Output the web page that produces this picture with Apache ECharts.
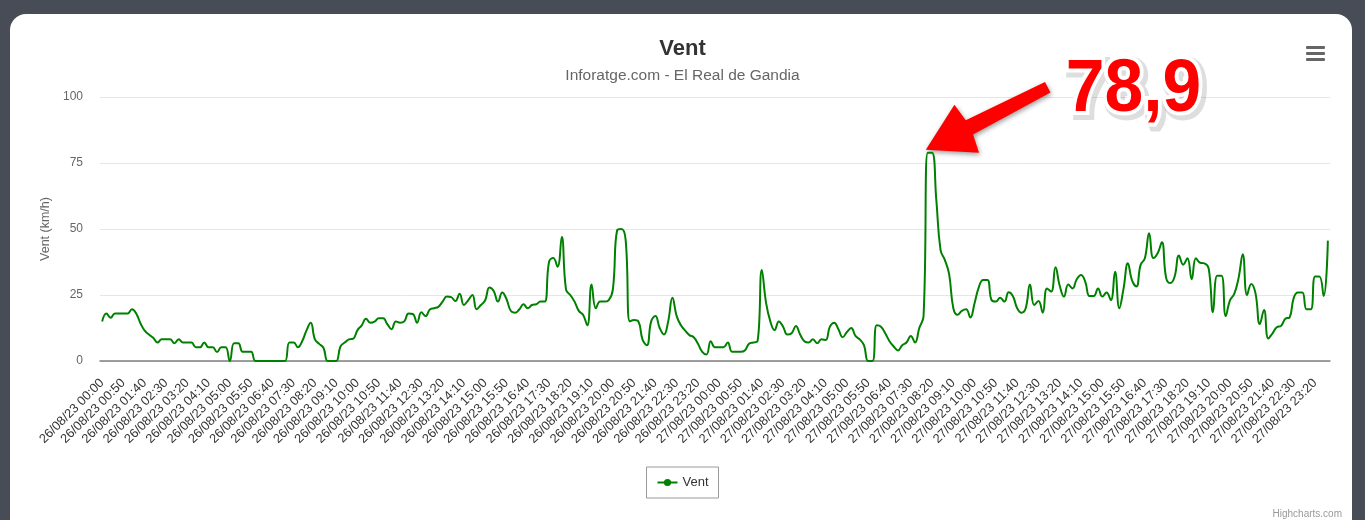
<!DOCTYPE html>
<html><head><meta charset="utf-8">
<script src="https://cdn.jsdelivr.net/npm/echarts/dist/echarts.min.js"></script>
<style>
html,body{margin:0;padding:0;width:1365px;height:520px;overflow:hidden;background:#474c56;}
#card{position:absolute;left:10px;top:14px;width:1342px;height:530px;background:#fff;border-radius:16px;}
#chart{position:absolute;left:0;top:0;width:1365px;height:520px;}
</style></head><body><div id="card"></div><div id="chart"></div>
<script>
// ---- data ----
const days = ['26/08/23', '27/08/23'];
const extraTime = '23:59';
const yTicks = [0, 25, 50, 75, 100];
const seriesName = 'Vent';
const windDay1 = [15,18,16.4,18,18,18,18,19.6,18,14.3,11.5,10,8.8,7,8.2,8.2,8.2,6.7,8.2,7,7,7,5.2,5.2,7,5.2,5.2,3.4,5.2,5.2,0,6.7,6.7,3.5,3.5,3.5,0,
  0,0,0,0,0,0,0,7,7,5.2,7.5,11.5,14.5,8.2,6.5,5,0,0,0,5.5,7,8.2,8.5,11.7,13.5,16,14.5,14.9,16.2,16.2,14,12,15,14.5,15,18,
  17.8,14.5,18.5,17,19.5,20,20.5,22.5,24.4,24.2,22.7,25.5,21.2,23,25,19.6,21.2,23,27.8,26.5,22.5,25.9,23.5,19,18.3,19.5,21.5,20,21.2,21.5,22.5,22.5,37.5,39,35.7,47,
  27,25,22.5,19,17.5,13.5,29,20,22.5,22.5,23,27,49.5,50,46,15,15.5,15,8,6,15,17,12.5,10,15,24,17,13.5,11.5,9.8,9,6.5,3.5,2.5,7.5];
const windDay2 = [5.2,5.2,5.2,7,3.5,3.5,3.5,4,6.5,7,7.5,34.5,22,15,11.7,15,13,10,10.5,13.3,10,7.5,7,8.2,6.7,8.2,8,13,14.5,12,9,11,12.5,9.5,8.2,6,0,0,
  13.5,13,10.5,7.5,5.5,4,6,7,9.5,7,12.5,17,78.9,78.9,61,42,38.3,33,20,17.5,19,19.6,16.5,22,28,30.7,30.7,23,22.5,24,22.5,26,24.5,20,18.3,20,
  29,21.2,22.7,18.3,27.5,26.3,35.5,28.5,24.4,29,27.5,31,32.6,30,24.6,24.6,27.5,24.4,25.9,23,33.8,20,27.5,37,30.5,28.2,36.4,38.9,48.4,39,40.8,45,31.5,29.5,32,40,36.5,
  38.9,31,38.9,37.2,37,35,18.5,32.3,32.3,17,23,25.4,31.3,40.4,25,29.2,25.6,14,19.3,8.5,10.5,12.8,13.3,16,16.5,24,25.9,25.9,19.6,19.6,32,32,24.6,45.6];
const wind = windDay1.concat(windDay2);

// category labels (10-minute steps)
const pad = n => (n < 10 ? '0' : '') + n;
const times = [];
for (let h = 0; h < 24; h++) for (let m = 0; m < 60; m += 10) times.push(pad(h) + ':' + pad(m));
const categories = times.map(t => days[0] + ' ' + t)
  .concat([days[0] + ' ' + extraTime])
  .concat(times.map(t => days[1] + ' ' + t));

const FONT = "'Liberation Sans', Arial, Helvetica, sans-serif";
const chart = echarts.init(document.getElementById('chart'), null, {renderer: 'canvas'});
const option = {
  animation: false,
  backgroundColor: 'transparent',
  textStyle: {fontFamily: FONT},
  title: {
    left: 'center', top: 33,
    text: 'Vent',
    subtext: 'Inforatge.com - El Real de Gandia',
    itemGap: 8,
    textStyle: {fontFamily: FONT, fontSize: 22, fontWeight: 'bold', color: '#333333'},
    subtextStyle: {fontFamily: FONT, fontSize: 15.5, color: '#666666'}
  },
  legend: {
    top: 467, left: 'center',
    data: [seriesName],
    borderColor: '#999999', borderWidth: 1, borderRadius: 0,
    padding: [9, 10, 9, 10],
    itemWidth: 20, itemHeight: 9, itemGap: 5,
    textStyle: {fontFamily: FONT, fontSize: 13, color: '#333333'}
  },
  grid: {left: 100, right: 35, top: 97, bottom: 159, containLabel: false},
  xAxis: {
    type: 'category',
    data: categories,
    boundaryGap: true,
    axisLine: {show: true, lineStyle: {color: '#808080', width: 1.5}},
    axisTick: {show: false},
    splitLine: {show: false},
    axisLabel: {interval: 4, rotate: 45, margin: 20, fontSize: 12.8, color: '#333333', fontFamily: FONT}
  },
  yAxis: {
    type: 'value',
    min: yTicks[0], max: yTicks[yTicks.length - 1], interval: yTicks[1] - yTicks[0],
    name: 'Vent (km/h)', nameLocation: 'middle', nameGap: 47, nameRotate: 90,
    nameTextStyle: {fontFamily: FONT, fontSize: 12.5, color: '#666666'},
    axisLine: {show: false}, axisTick: {show: false},
    axisLabel: {margin: 17, fontSize: 12, color: '#666666', fontFamily: FONT},
    splitLine: {lineStyle: {color: '#e6e6e6', width: 1}}
  },
  series: [{
    name: seriesName,
    type: 'line',
    data: wind,
    smooth: 0.45,
    showSymbol: false,
    symbol: 'circle', symbolSize: 8,
    lineStyle: {color: '#008000', width: 2},
    itemStyle: {color: '#008000'}
  }]
};
chart.setOption(option);

// annotation anchored at the maximum point
let maxI = 0;
wind.forEach((v, i) => { if (v > wind[maxI]) maxI = i; });
const tipP = chart.convertToPixel({seriesIndex: 0}, [maxI, wind[maxI]]);
const tx = tipP[0] - 2, ty = tipP[1] - 3;
const ux = 0.89, uy = -0.456, nx = 0.456, ny = 0.89;
const P = (a, b) => [tx + a * ux + b * nx, ty + a * uy + b * ny];
const arrowPts = [P(0, 0), P(46, 27), P(49, 8), P(137, 6), P(137, -6), P(49, -8), P(46, -27)];
const maxLabel = String(wind[maxI]).replace('.', ',');
const bigFont = "bold 74px 'Liberation Sans', Arial, sans-serif";

chart.setOption({
  graphic: [
    {type: 'polygon', shape: {points: arrowPts},
     style: {fill: '#ff0000', shadowBlur: 5, shadowColor: 'rgba(0,0,0,0.4)', shadowOffsetX: 1, shadowOffsetY: 2}},
    {type: 'text', left: 1063, top: 51, scaleX: 0.94, silent: true,
     style: {text: maxLabel, font: bigFont, fill: 'rgba(0,0,0,0.13)', stroke: 'rgba(0,0,0,0.13)', lineWidth: 12}},
    {type: 'text', left: 1062, top: 50, scaleX: 0.94,
     style: {text: maxLabel, font: bigFont, fill: '#ff0000', stroke: '#ffffff', lineWidth: 8}},
    {type: 'rect', shape: {x: 1306, y: 46, width: 19, height: 3, r: 1}, style: {fill: '#666666'}},
    {type: 'rect', shape: {x: 1306, y: 52, width: 19, height: 3, r: 1}, style: {fill: '#666666'}},
    {type: 'rect', shape: {x: 1306, y: 58, width: 19, height: 3, r: 1}, style: {fill: '#666666'}},
    {type: 'text', right: 23, top: 509,
     style: {text: 'Highcharts.com', font: "10px 'Liberation Sans', Arial, sans-serif", fill: '#999999'}}
  ]
});
</script></body></html>
